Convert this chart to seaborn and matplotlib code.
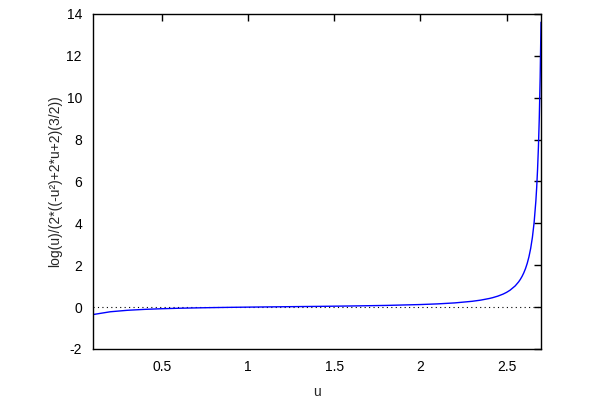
import pandas as pd
import matplotlib
matplotlib.use("Agg")
import matplotlib.pyplot as plt
import seaborn as sns

# points
u_vals = [0.1, 0.2, 0.3, 0.4, 0.5, 0.6, 0.7, 0.8, 0.9, 1.0, 1.2, 1.4, 1.6, 1.8,
          2.0, 2.1, 2.2, 2.3, 2.35, 2.4, 2.42, 2.45, 2.48, 2.5, 2.52, 2.55,
          2.57, 2.58, 2.59, 2.6, 2.61, 2.62, 2.63, 2.64, 2.65, 2.66, 2.67,
          2.675, 2.68, 2.685, 2.69, 2.695, 2.7]
f_vals = [-0.355, -0.222, -0.151, -0.107, -0.076, -0.053, -0.036, -0.022, -0.010,
          0.0, 0.018, 0.035, 0.055, 0.081, 0.123, 0.155, 0.202, 0.278, 0.334,
          0.413, 0.453, 0.527, 0.623, 0.705, 0.807, 1.013, 1.206, 1.326, 1.468,
          1.637, 1.841, 2.092, 2.406, 2.807, 3.333, 4.05, 5.06, 5.74, 6.59,
          7.66, 9.06, 10.95, 13.61]
x_ticks = [0.5, 1, 1.5, 2, 2.5]
x_tick_labels = ["0.5", "1", "1.5", "2", "2.5"]
y_ticks = [-2, 0, 2, 4, 6, 8, 10, 12, 14]

df = pd.DataFrame({"u": u_vals, "f": f_vals})

sns.set_style("white")
plt.rcParams['font.family'] = ['Liberation Sans', 'DejaVu Sans']
plt.rcParams['axes.unicode_minus'] = False

fig = plt.figure(figsize=(6, 4), dpi=100)
ax = fig.add_axes([0.155, 0.1275, 0.7467, 0.8375])

ax.axhline(0, color="black", linestyle=(0, (1, 3)), linewidth=0.8)
sns.lineplot(x="u", y="f", data=df, color="blue", linewidth=1, ax=ax)

ax.set_xlim(0.1, 2.7)
ax.set_ylim(-2, 14)
ax.set_xticks(x_ticks)
ax.set_xticklabels(x_tick_labels)
ax.set_yticks(y_ticks)
ax.tick_params(direction="in", top=True, right=True, length=5, width=1,
               labelsize=10, pad=8, colors="black")
for s in ax.spines.values():
    s.set_color("black")
    s.set_linewidth(1)

ax.set_xlabel("u", fontsize=10, labelpad=8)
ax.set_ylabel("log(u)/(2*((-u²)+2*u+2)(3/2))", fontsize=10, labelpad=3)

fig.savefig("out.png", dpi=100)
